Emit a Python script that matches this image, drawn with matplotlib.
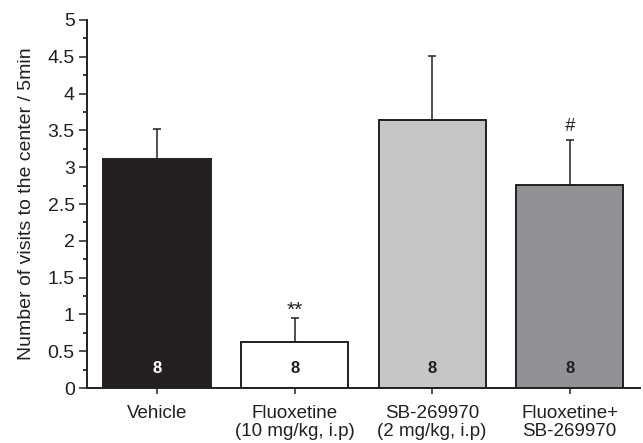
import matplotlib
matplotlib.use("Agg")
import matplotlib.pyplot as plt
from matplotlib.ticker import MultipleLocator, FuncFormatter

plt.rcParams['font.family'] = ['Liberation Sans', 'DejaVu Sans']

groups = ["Vehicle", "Fluoxetine\n(10 mg/kg, i.p)", "SB-269970\n(2 mg/kg, i.p)", "Fluoxetine+\nSB-269970"]
means = [3.11, 0.63, 3.64, 2.76]
sem = [0.41, 0.32, 0.87, 0.61]
n_animals = [8, 8, 8, 8]
marks = ["", "**", "", "#"]
fills = ["#231f20", "#ffffff", "#c5c6c8", "#919295"]
n_colors = ["white", "#231f20", "#231f20", "#231f20"]
ink = "#231f20"

fig = plt.figure(figsize=(6.43, 4.43), dpi=100)
ax = fig.add_axes([0.1353, 0.124, 0.8597, 0.831])

x = list(range(len(groups)))
ax.bar(x, means, width=0.78, color=fills, edgecolor=ink, linewidth=1.4, zorder=2)
ax.errorbar(x, means, yerr=[[0] * len(sem), sem], fmt="none", ecolor=ink,
            elinewidth=1.1, capsize=2.6, capthick=1.1, zorder=1)

for xi, m, s, mk, n, c in zip(x, means, sem, marks, n_animals, n_colors):
    if mk == "**":
        ax.text(xi, m + s + 0.03, mk, ha="center", va="baseline", fontsize=15, color=ink)
    elif mk == "#":
        ax.text(xi, m + s + 0.12, mk, ha="center", va="baseline", fontsize=13,
                style="italic", color=ink)
    ax.text(xi, 0.27, str(n), ha="center", va="center", fontsize=12,
            fontweight="bold", color=c, zorder=3)

ax.set_xlim(-0.51, 3.51)
ax.set_ylim(0, 5)
ax.yaxis.set_major_locator(MultipleLocator(0.5))
ax.yaxis.set_minor_locator(MultipleLocator(0.25))
ax.yaxis.set_major_formatter(FuncFormatter(lambda v, p: f"{v:g}"))
ax.set_xticks(x)
ax.set_xticklabels(groups, fontsize=13.5, color=ink, linespacing=1.1)
ax.tick_params(axis="y", labelsize=14, colors=ink, length=5.8, width=1.1, pad=3)
ax.tick_params(axis="y", which="minor", length=3, width=1.1)
ax.tick_params(axis="x", length=4, width=1.1, pad=8, colors=ink)

for side in ("top", "right"):
    ax.spines[side].set_visible(False)
for side in ("left", "bottom"):
    ax.spines[side].set_linewidth(1.4)
    ax.spines[side].set_color(ink)

ax.set_ylabel("Number of visits to the center / 5min", fontsize=14, color=ink, labelpad=9)

fig.savefig("out.png", dpi=100)
